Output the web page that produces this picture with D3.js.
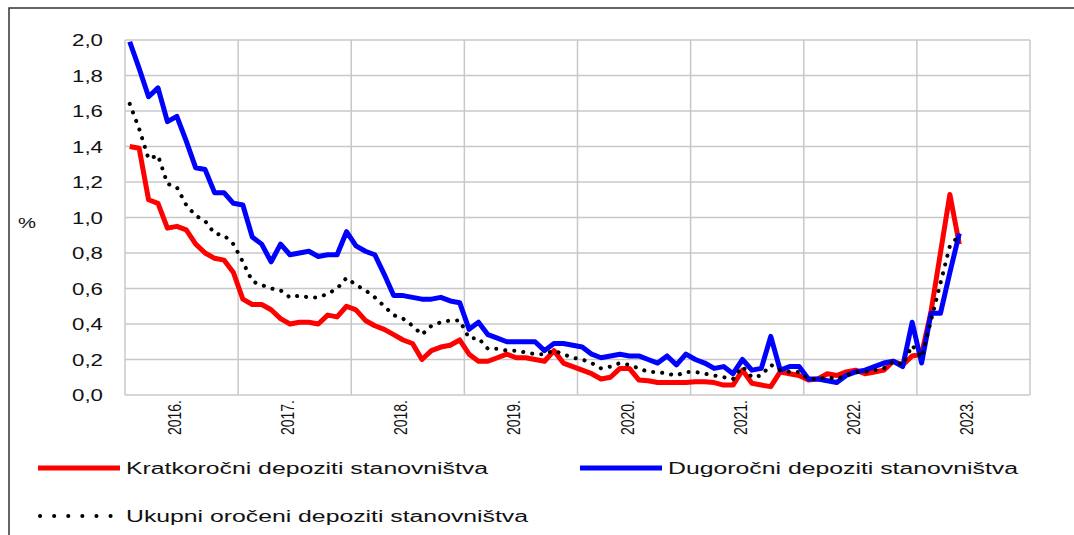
<!DOCTYPE html>
<html>
<head>
<meta charset="utf-8">
<script src="https://cdn.jsdelivr.net/npm/d3@7"></script>
<style>
  body { margin: 0; background: #fff; }
  svg text { font-family: "Liberation Sans", Arial, sans-serif; fill: #111; }
</style>
</head>
<body>
<div class="visHolder"></div>
<script>
// monthly data, Jan 2016 - May 2023
var years = ["2016", "2017", "2018", "2019", "2020", "2021", "2022", "2023"];
var yTicks = [0, 0.2, 0.4, 0.6, 0.8, 1.0, 1.2, 1.4, 1.6, 1.8, 2.0];

var kratkorocni = [
  1.40, 1.39, 1.10, 1.08, 0.94, 0.95, 0.93, 0.85, 0.80, 0.77, 0.76, 0.69,
  0.54, 0.51, 0.51, 0.48, 0.43, 0.40, 0.41, 0.41, 0.40, 0.45, 0.44, 0.50,
  0.48, 0.42, 0.39, 0.37, 0.34, 0.31, 0.29, 0.20, 0.25, 0.27, 0.28, 0.31,
  0.23, 0.19, 0.19, 0.21, 0.23, 0.21, 0.21, 0.20, 0.19, 0.25, 0.18, 0.16,
  0.14, 0.12, 0.09, 0.10, 0.15, 0.15, 0.085, 0.08, 0.07, 0.07, 0.07, 0.07,
  0.075, 0.075, 0.07, 0.056, 0.056, 0.14, 0.066, 0.056, 0.047, 0.13, 0.12, 0.11,
  0.085, 0.09, 0.12, 0.11, 0.13, 0.14, 0.12, 0.13, 0.14, 0.19, 0.17, 0.22,
  0.23, 0.47, 0.80, 1.13, 0.85
];
var dugorocni = [
  1.99, 1.84, 1.68, 1.73, 1.54, 1.57, 1.43, 1.28, 1.27, 1.14, 1.14, 1.08,
  1.07, 0.89, 0.85, 0.75, 0.85, 0.79, 0.80, 0.81, 0.78, 0.79, 0.79, 0.92,
  0.84, 0.81, 0.79, 0.68, 0.56, 0.56, 0.55, 0.54, 0.54, 0.55, 0.53, 0.52,
  0.37, 0.41, 0.34, 0.32, 0.30, 0.30, 0.30, 0.30, 0.25, 0.29, 0.29, 0.28,
  0.27, 0.23, 0.21, 0.22, 0.23, 0.22, 0.22, 0.20, 0.18, 0.22, 0.17, 0.23,
  0.20, 0.18, 0.15, 0.16, 0.12, 0.20, 0.14, 0.15, 0.33, 0.14, 0.16, 0.16,
  0.09, 0.09, 0.08, 0.07, 0.11, 0.13, 0.14, 0.16, 0.18, 0.19, 0.16, 0.41,
  0.18, 0.46, 0.46, 0.69, 0.91
];
var ukupni = [
  1.64, 1.50, 1.33, 1.35, 1.19, 1.17, 1.07, 1.01, 0.98, 0.91, 0.90, 0.85,
  0.75, 0.64, 0.62, 0.60, 0.59, 0.55, 0.56, 0.55, 0.55, 0.57, 0.60, 0.66,
  0.62, 0.59, 0.55, 0.50, 0.45, 0.43, 0.39, 0.34, 0.39, 0.41, 0.42, 0.42,
  0.32, 0.32, 0.26, 0.26, 0.25, 0.25, 0.24, 0.23, 0.23, 0.25, 0.23, 0.21,
  0.20, 0.18, 0.15, 0.16, 0.18, 0.17, 0.15, 0.13, 0.13, 0.12, 0.11, 0.13,
  0.13, 0.12, 0.11, 0.10, 0.09, 0.16, 0.10, 0.11, 0.17, 0.14, 0.13, 0.13,
  0.09, 0.09, 0.10, 0.09, 0.11, 0.13, 0.13, 0.14, 0.15, 0.19, 0.17, 0.28,
  0.21, 0.42, 0.63, 0.84, 0.90
];
var seriesNames = ["Kratkoročni depoziti stanovništva", "Dugoročni depoziti stanovništva", "Ukupni oročeni depoziti stanovništva"];

var width = 1074, height = 535;
var plotLeft = 125, plotRight = 1030, plotTop = 40, plotBottom = 395;
var stretch = 1.35; // the picture has horizontally widened type
var gridColor = "#c8c8c8";

var svg = d3.select(".visHolder").append("svg")
  .attr("width", width)
  .attr("height", height);

// frame (left and top edges only)
svg.append("path")
  .attr("d", "M9," + height + "V8H" + width)
  .attr("fill", "none")
  .attr("stroke", "#333")
  .attr("stroke-width", 1.5);

var xScale = d3.scaleLinear()
  .domain([0, years.length * 12])
  .range([plotLeft, plotRight]);

var yScale = d3.scaleLinear()
  .domain([0, 2])
  .range([plotBottom, plotTop]);

// grid
svg.append("g").selectAll("line")
  .data(yTicks)
  .enter().append("line")
  .attr("x1", plotLeft).attr("x2", plotRight)
  .attr("y1", d => yScale(d)).attr("y2", d => yScale(d))
  .attr("stroke", gridColor).attr("stroke-width", 1.5);

svg.append("g").selectAll("line")
  .data(d3.range(0, years.length + 1))
  .enter().append("line")
  .attr("x1", d => xScale(d * 12)).attr("x2", d => xScale(d * 12))
  .attr("y1", plotTop).attr("y2", plotBottom)
  .attr("stroke", gridColor).attr("stroke-width", 1.5);

// y axis
var yAxis = svg.append("g")
  .attr("transform", "translate(" + plotLeft + ",0)")
  .call(d3.axisLeft(yScale).tickValues(yTicks).tickSize(0)
    .tickFormat(d => d3.format(".1f")(d).replace(".", ",")));
yAxis.select(".domain").remove();
yAxis.selectAll("text")
  .attr("x", 0)
  .attr("dy", "0.36em")
  .attr("transform", "translate(-22,0) scale(" + stretch + ",1)")
  .style("font-size", "16.5px")
  .style("text-anchor", "end");

// x axis
var xAxis = svg.append("g")
  .attr("transform", "translate(0," + plotBottom + ")")
  .call(d3.axisBottom(xScale).tickValues(years.map((y, i) => i * 12 + 6)).tickSize(0)
    .tickFormat((d, i) => years[i] + "."));
xAxis.select(".domain").remove();
xAxis.selectAll("text")
  .attr("x", 0).attr("y", 0).attr("dy", 0)
  .attr("transform", "translate(-1,5) scale(" + stretch + ",1) rotate(-90)")
  .style("font-size", "14px")
  .style("text-anchor", "end");

svg.append("text")
  .attr("transform", "translate(18,228) scale(" + stretch + ",1)")
  .style("font-size", "15px")
  .text("%");

// lines
var line = d3.line()
  .x((d, i) => xScale(i + 0.5))
  .y(d => yScale(d));

svg.append("path")
  .datum(kratkorocni)
  .attr("d", line)
  .attr("fill", "none")
  .attr("stroke", "#ff0000")
  .attr("stroke-width", 5)
  .attr("stroke-linejoin", "round");

svg.append("path")
  .datum(dugorocni)
  .attr("d", line)
  .attr("fill", "none")
  .attr("stroke", "#0000ff")
  .attr("stroke-width", 5)
  .attr("stroke-linejoin", "round");

svg.append("path")
  .datum(ukupni)
  .attr("d", line)
  .attr("fill", "none")
  .attr("stroke", "#000")
  .attr("stroke-width", 4)
  .attr("stroke-linecap", "round")
  .attr("stroke-dasharray", "0.1,9");

// legend
var legendItems = [
  { x: 38, y: 468, color: "#ff0000", dash: null, tw: 362 },
  { x: 580, y: 468, color: "#0000ff", dash: null, tw: 350 },
  { x: 40, y: 516, color: "#000", dash: "0.1,14", tw: 402 }
];

var legend = svg.append("g").selectAll("g")
  .data(legendItems)
  .enter().append("g")
  .attr("transform", d => "translate(" + d.x + "," + d.y + ")");

legend.append("line")
  .attr("x1", 0).attr("x2", d => d.dash ? 76 : 82)
  .attr("stroke", d => d.color)
  .attr("stroke-width", d => d.dash ? 4 : 5)
  .attr("stroke-linecap", d => d.dash ? "round" : "butt")
  .attr("stroke-dasharray", d => d.dash);

legend.append("text")
  .attr("x", d => d.dash ? 86 : 88)
  .attr("y", 6)
  .attr("textLength", d => d.tw)
  .attr("lengthAdjust", "spacingAndGlyphs")
  .style("font-size", "16px")
  .text((d, i) => seriesNames[i]);
</script>
</body>
</html>
